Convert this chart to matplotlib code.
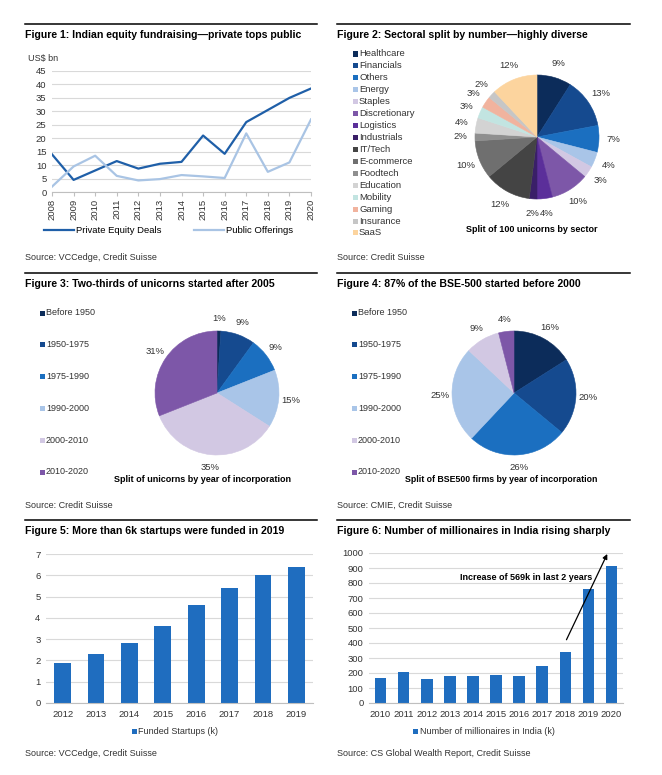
import matplotlib
matplotlib.use('Agg')
import matplotlib.pyplot as plt
from matplotlib.lines import Line2D
from matplotlib.patches import Rectangle

plt.rcParams['font.family'] = ['Liberation Sans', 'DejaVu Sans']

W, H = 662, 775

# ---- data ----
years1 = list(range(2008, 2021))
private_equity = [14, 4.5, 8, 11.5, 8.7, 10.5, 11.2, 21, 14.2, 26, 30.5, 35, 38.5]
public_offerings = [2, 9.5, 13.5, 6, 4.3, 4.8, 6.3, 5.8, 5.2, 21.8, 7.5, 11, 27]

sectors = ['Healthcare', 'Financials', 'Others', 'Energy', 'Staples', 'Discretionary',
           'Logistics', 'Industrials', 'IT/Tech', 'E-commerce', 'Foodtech', 'Education',
           'Mobility', 'Gaming', 'Insurance', 'SaaS']
sector_share = [9, 13, 7, 4, 3, 10, 4, 2, 12, 10, 2, 4, 3, 3, 2, 12]

periods = ['Before 1950', '1950-1975', '1975-1990', '1990-2000', '2000-2010', '2010-2020']
unicorn_share = [1, 9, 9, 15, 35, 31]
bse500_share = [16, 20, 26, 25, 9, 4]

years5 = ['2012', '2013', '2014', '2015', '2016', '2017', '2018', '2019']
funded_startups = [1.9, 2.3, 2.8, 3.6, 4.6, 5.4, 6.0, 6.4]

years6 = ['2010', '2011', '2012', '2013', '2014', '2015', '2016', '2017', '2018', '2019', '2020']
millionaires = [170, 205, 158, 182, 182, 185, 178, 245, 343, 760, 912]

# ---- styles ----
sector_colors = ['#0c2c5a', '#154a8f', '#1b6fc0', '#a9c5e8', '#d2c8e3', '#7d57a8',
                 '#5b2f9a', '#3a1f68', '#444444', '#6f6f6f', '#8f8f8f', '#d3d3d3',
                 '#c2e4e1', '#f1b39e', '#c6c6c6', '#fcd49e']
period_colors = sector_colors[:6]
blue_bar = '#1f6dbf'
txt = '#333333'
grid_c = '#d9d9d9'
FS = 6.5
TFS = 7.6

fig = plt.figure(figsize=(W / 100, H / 100), dpi=100)


def px_axes(l, t, r, b):
    return fig.add_axes([l / W, 1 - b / H, (r - l) / W, (b - t) / H])


def ftext(x, y, s, **kw):
    kw.setdefault('fontsize', FS)
    kw.setdefault('color', txt)
    kw.setdefault('va', 'center')
    fig.text(x / W, 1 - y / H, s, **kw)


def rule(x0, x1, y):
    fig.add_artist(Line2D([x0 / W, x1 / W], [1 - y / H, 1 - y / H], color='black', lw=1.1))


def header(x0, x1, y, title):
    rule(x0, x1, y)
    ftext(x0, y + 11, title, fontsize=TFS, fontweight='bold', color='black')


def swatch(x, y, color, size=5):
    fig.add_artist(Rectangle((x / W, 1 - (y + size / 2) / H), size / W, size / H,
                             facecolor=color, edgecolor='none', transform=fig.transFigure))


def style_grid(ax):
    ax.yaxis.grid(True, color=grid_c, lw=0.8)
    ax.set_axisbelow(True)
    for s in ['top', 'right', 'left']:
        ax.spines[s].set_visible(False)
    ax.spines['bottom'].set_color('#bfbfbf')
    ax.tick_params(axis='y', length=0, labelsize=FS + 0.3, labelcolor=txt, pad=4)
    ax.tick_params(axis='x', labelsize=FS + 0.3, labelcolor=txt)


def draw_pie(ax, values, colors, dist):
    wedges, _ = ax.pie(values, colors=colors, startangle=90, counterclock=False,
                       labels=[f'{v}%' for v in values], labeldistance=dist,
                       textprops={'fontsize': FS + 0.3, 'color': txt,
                                  'ha': 'center', 'va': 'center'})
    for w in wedges:
        w.set_edgecolor(w.get_facecolor())
        w.set_linewidth(0.4)
    ax.set_xlim(-1, 1)
    ax.set_ylim(-1, 1)


# ---- Figure 1 ----
header(25, 317, 24, 'Figure 1: Indian equity fundraising\u2014private tops public')
ax1 = px_axes(52, 71, 311, 192)
ax1.plot(years1, private_equity, color='#1f5fa8', lw=1.6, label='Private Equity Deals')
ax1.plot(years1, public_offerings, color='#a9c4e4', lw=1.6, label='Public Offerings')
ax1.set_xlim(2008, 2020)
ax1.set_ylim(0, 45)
ax1.set_yticks(range(0, 50, 5))
ax1.set_xticks(years1)
ax1.set_xticklabels([str(y) for y in years1], rotation=90)
style_grid(ax1)
ax1.tick_params(axis='x', length=3, color='#bfbfbf', pad=2)
ftext(28, 58, 'US$ bn')
ax1.legend(loc='center', bbox_to_anchor=(0.45, -0.32), ncol=2, frameon=False,
           fontsize=FS + 0.3, handlelength=3.2, columnspacing=3.5, handletextpad=0.2)
ftext(25, 257, 'Source: VCCedge, Credit Suisse')

# ---- Figure 2 ----
header(337, 630, 24, 'Figure 2: Sectoral split by number\u2014highly diverse')
ax2 = px_axes(537 - 62, 137 - 62, 537 + 62, 137 + 62)
draw_pie(ax2, sector_share, sector_colors, 1.24)
for i, name in enumerate(sectors):
    y = 54 + i * 11.93
    swatch(352.5, y, sector_colors[i])
    ftext(359, y, name, fontsize=FS + 0.3)
ftext(532, 230, 'Split of 100 unicorns by sector', fontweight='bold', color='black', ha='center')
ftext(337, 257, 'Source: Credit Suisse')

# ---- Figure 3 ----
header(25, 317, 273, 'Figure 3: Two-thirds of unicorns started after 2005')
ax3 = px_axes(217 - 62, 393 - 62, 217 + 62, 393 + 62)
draw_pie(ax3, unicorn_share, period_colors, 1.2)
for i, name in enumerate(periods):
    y = 313 + i * 31.8
    swatch(40, y, period_colors[i])
    ftext(46, y, name)
ftext(202, 479, 'Split of unicorns by year of incorporation', fontweight='bold',
      color='black', ha='center')
ftext(25, 505, 'Source: Credit Suisse')

# ---- Figure 4 ----
header(337, 630, 273, 'Figure 4: 87% of the BSE-500 started before 2000')
ax4 = px_axes(514 - 62, 393 - 62, 514 + 62, 393 + 62)
draw_pie(ax4, bse500_share, period_colors, 1.2)
for i, name in enumerate(periods):
    y = 313 + i * 31.8
    swatch(352, y, period_colors[i])
    ftext(358, y, name)
ftext(501, 480, 'Split of BSE500 firms by year of incorporation', fontweight='bold',
      color='black', ha='center', fontsize=6.3)
ftext(337, 505, 'Source: CMIE, Credit Suisse')

# ---- Figure 5 ----
header(25, 317, 520, 'Figure 5: More than 6k startups were funded in 2019')
ax5 = px_axes(46, 554, 313, 703)
ax5.bar(range(len(years5)), funded_startups, width=0.5, color=blue_bar)
ax5.set_xlim(-0.5, len(years5) - 0.5)
ax5.set_ylim(0, 7)
ax5.set_yticks(range(0, 8))
ax5.set_xticks(range(len(years5)))
ax5.set_xticklabels(years5)
style_grid(ax5)
ax5.tick_params(axis='x', length=0, pad=5)
swatch(132, 731, blue_bar)
ftext(138, 731, 'Funded Startups (k)')
ftext(25, 754, 'Source: VCCedge, Credit Suisse')

# ---- Figure 6 ----
header(337, 630, 520, 'Figure 6: Number of millionaires in India rising sharply')
ax6 = px_axes(369, 553, 623, 703)
ax6.bar(range(len(years6)), millionaires, width=0.5, color=blue_bar)
ax6.set_xlim(-0.5, len(years6) - 0.5)
ax6.set_ylim(0, 1000)
ax6.set_yticks(range(0, 1100, 100))
ax6.set_xticks(range(len(years6)))
ax6.set_xticklabels(years6)
style_grid(ax6)
ax6.tick_params(axis='x', length=0, pad=5)
ax6.annotate('', xy=(9.87, 1010), xytext=(8.0, 405), annotation_clip=False,
             arrowprops=dict(arrowstyle='-|>', color='black', lw=0.9, mutation_scale=7))
ax6.text(9.15, 838, 'Increase of 569k in last 2 years', fontsize=FS, fontweight='bold',
         color='black', ha='right', va='center')
swatch(413, 731, blue_bar)
ftext(420, 731, 'Number of millionaires in India (k)')
ftext(337, 754, 'Source: CS Global Wealth Report, Credit Suisse')

fig.savefig('out.png', dpi=100, facecolor='white')
